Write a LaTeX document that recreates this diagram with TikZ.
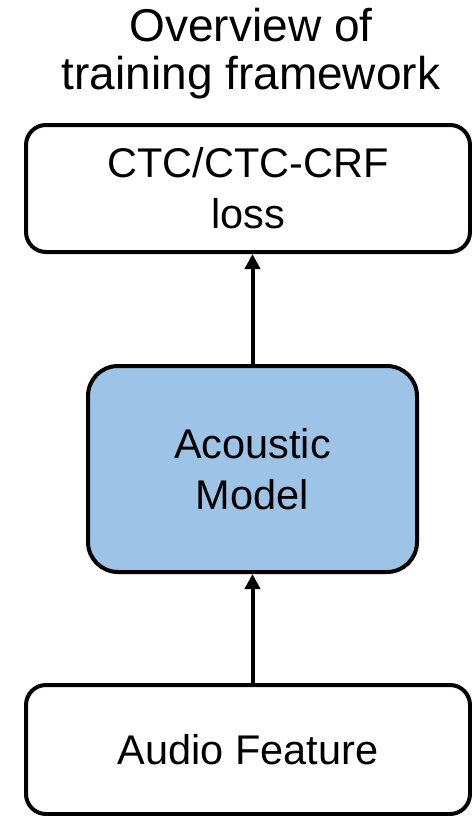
\documentclass[tikz,border=0pt]{standalone}
\usepackage{fontspec}
\setmainfont{Liberation Sans}
\usetikzlibrary{arrows.meta}
\definecolor{amblue}{RGB}{157,195,230}
\tikzset{
  stage/.style={draw=black, line width=4pt, rounded corners=20pt, fill=white,
    align=center, inner sep=0pt, font=\fontsize{41.5}{51}\selectfont},
  flow/.style={line width=4pt, -{Triangle[width=15pt,length=15pt]}},
}
\begin{document}
\begin{tikzpicture}[x=1pt, y=-1pt]
  \useasboundingbox (0,0) rectangle (471,816);

  % title
  \node[align=center, inner sep=0pt, font=\fontsize{46}{48}\selectfont]
    (title) at (251,54) {Overview of\\training framework};

  % loss box
  \node[stage, minimum width=444pt, minimum height=127pt]
    (loss) at (248,188.5) {CTC/CTC-CRF\\loss};

  % acoustic model
  \node[stage, rounded corners=30pt, fill=amblue, minimum width=329pt, minimum height=206pt]
    (am) at (252.5,469) {Acoustic\\Model};

  % input features
  \node[stage, minimum width=444pt, minimum height=129pt]
    (feat) at (248,749.5) {Audio Feature};

  % connectors
  \draw[flow] (am.north) -- (am.north |- loss.south);
  \draw[flow] (am.south |- feat.north) -- (am.south);
\end{tikzpicture}
\end{document}
